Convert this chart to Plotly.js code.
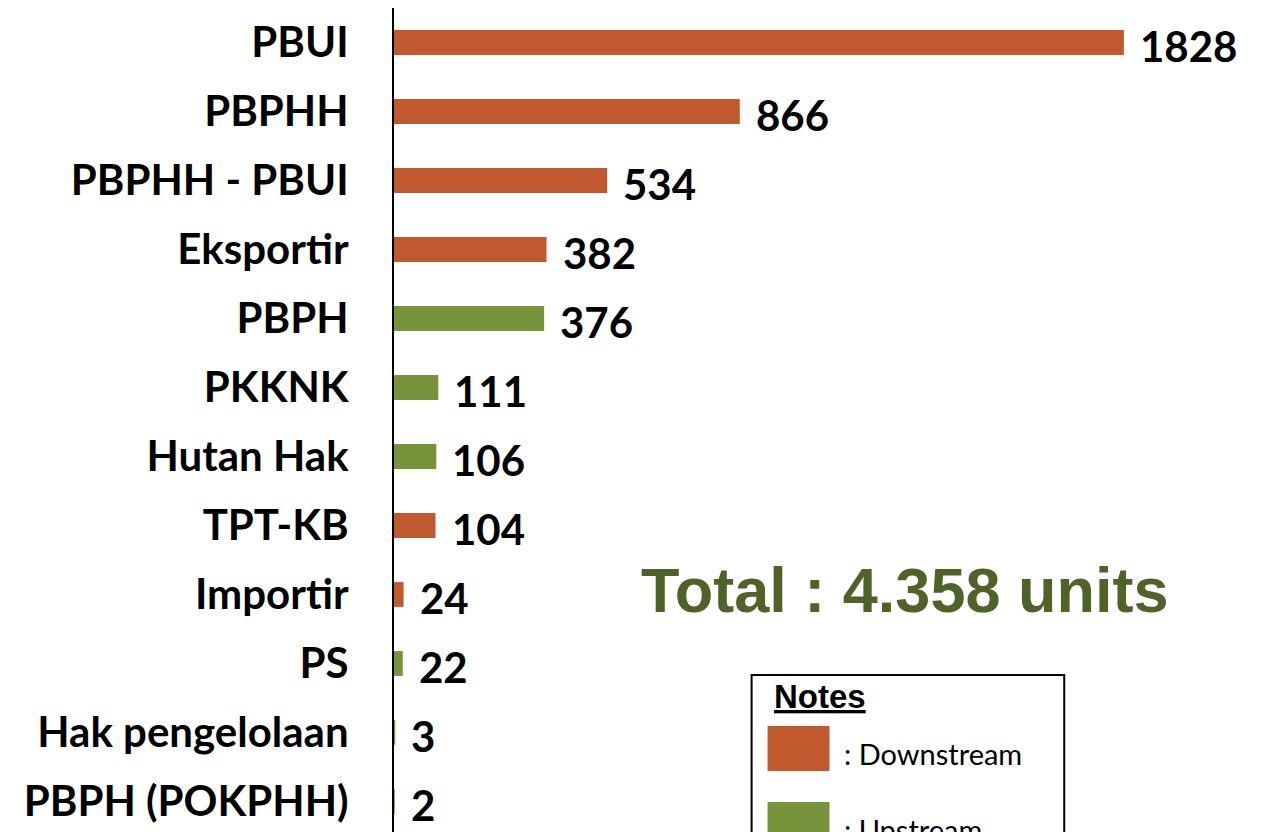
<!DOCTYPE html>
<html>
<head>
<meta charset="utf-8">
<script src="https://cdn.plot.ly/plotly-3.0.1.min.js"></script>
<style>
  html, body { margin: 0; padding: 0; overflow: hidden; background: #fff; }
  #chart { width: 1266px; height: 840px; }
</style>
</head>
<body>
<div id="chart"></div>
<script>
// Licence types, top to bottom
let categories = ["PBUI", "PBPHH", "PBPHH - PBUI", "Eksportir", "PBPH", "PKKNK",
  "Hutan Hak", "TPT-KB", "Importir", "PS", "Hak pengelolaan", "PBPH (POKPHH)"];
let units = [1828, 866, 534, 382, 376, 111, 106, 104, 24, 22, 3, 2];
// D = downstream, U = upstream
let stream = ["D", "D", "D", "D", "U", "U", "U", "D", "D", "U", "U", "U"];

let totalLabel = "Total : 4.358 units";

let orange = "#C05A2E";
let green = "#77933C";

let barColors = stream.map(s => s == "D" ? orange : green);

let trace1 = {
  type: "bar",
  orientation: "h",
  x: units,
  y: categories,
  marker: { color: barColors },
  hoverinfo: "x+y"
};

// value labels next to each bar
let valueLabels = units.map((v, i) => ({
  x: v,
  y: categories[i],
  xref: "x",
  yref: "y",
  text: "<b>" + v + "</b>",
  showarrow: false,
  xanchor: "left",
  yanchor: "middle",
  xshift: 14,
  yshift: -3,
  font: { family: "Lato, sans-serif", size: 42, color: "#000" }
}));

let notes = [
  {
    x: 0.5853, y: 0.2971, xref: "paper", yref: "paper", yanchor: "middle",
    text: "<b>" + totalLabel + "</b>", showarrow: false,
    font: { family: "Liberation Sans, Arial, sans-serif", size: 63, color: "#4F6228" }
  },
  {
    x: 0.4330, y: 0.1679, xref: "paper", yref: "paper", xanchor: "left", yanchor: "middle",
    text: "<b><u>Notes</u></b>", showarrow: false,
    font: { family: "Liberation Sans, Arial, sans-serif", size: 33, color: "#000" }
  },
  {
    x: 0.5136, y: 0.1000, xref: "paper", yref: "paper", xanchor: "left", yanchor: "middle",
    text: ": Downstream", showarrow: false,
    font: { family: "Lato, sans-serif", size: 29, color: "#000" }
  },
  {
    x: 0.5136, y: 0.0080, xref: "paper", yref: "paper", xanchor: "left", yanchor: "middle",
    text: ": Upstream", showarrow: false,
    font: { family: "Lato, sans-serif", size: 29, color: "#000" }
  }
];

let shapes = [
  // notes box
  { type: "rect", xref: "paper", yref: "paper", x0: 0.4101, x1: 0.7686, y0: -0.05, y1: 0.1944,
    line: { color: "#000", width: 2 }, fillcolor: "rgba(0,0,0,0)" },
  { type: "rect", xref: "paper", yref: "paper", x0: 0.4284, x1: 0.4994, y0: 0.0785, y1: 0.1329,
    line: { width: 0 }, fillcolor: orange },
  { type: "rect", xref: "paper", yref: "paper", x0: 0.4284, x1: 0.4994, y0: -0.013, y1: 0.0411,
    line: { width: 0 }, fillcolor: green }
];

let layout = {
  width: 1266,
  height: 840,
  margin: { l: 394, r: 0, t: 8, b: 4 },
  paper_bgcolor: "#fff",
  plot_bgcolor: "#fff",
  showlegend: false,
  bargap: 0.64,
  xaxis: {
    range: [0, 2184],
    showgrid: false,
    zeroline: false,
    showticklabels: false,
    showline: false,
    fixedrange: true
  },
  yaxis: {
    autorange: "reversed",
    showgrid: false,
    zeroline: false,
    showline: true,
    linecolor: "#000",
    linewidth: 2,
    ticks: "",
    ticklabelstandoff: 35,
    tickfont: { family: "Lato, sans-serif", size: 42, color: "#000", weight: "bold" },
    fixedrange: true
  },
  annotations: valueLabels.concat(notes),
  shapes: shapes
};

Plotly.newPlot("chart", [trace1], layout, { displayModeBar: false, staticPlot: true });
</script>
</body>
</html>
